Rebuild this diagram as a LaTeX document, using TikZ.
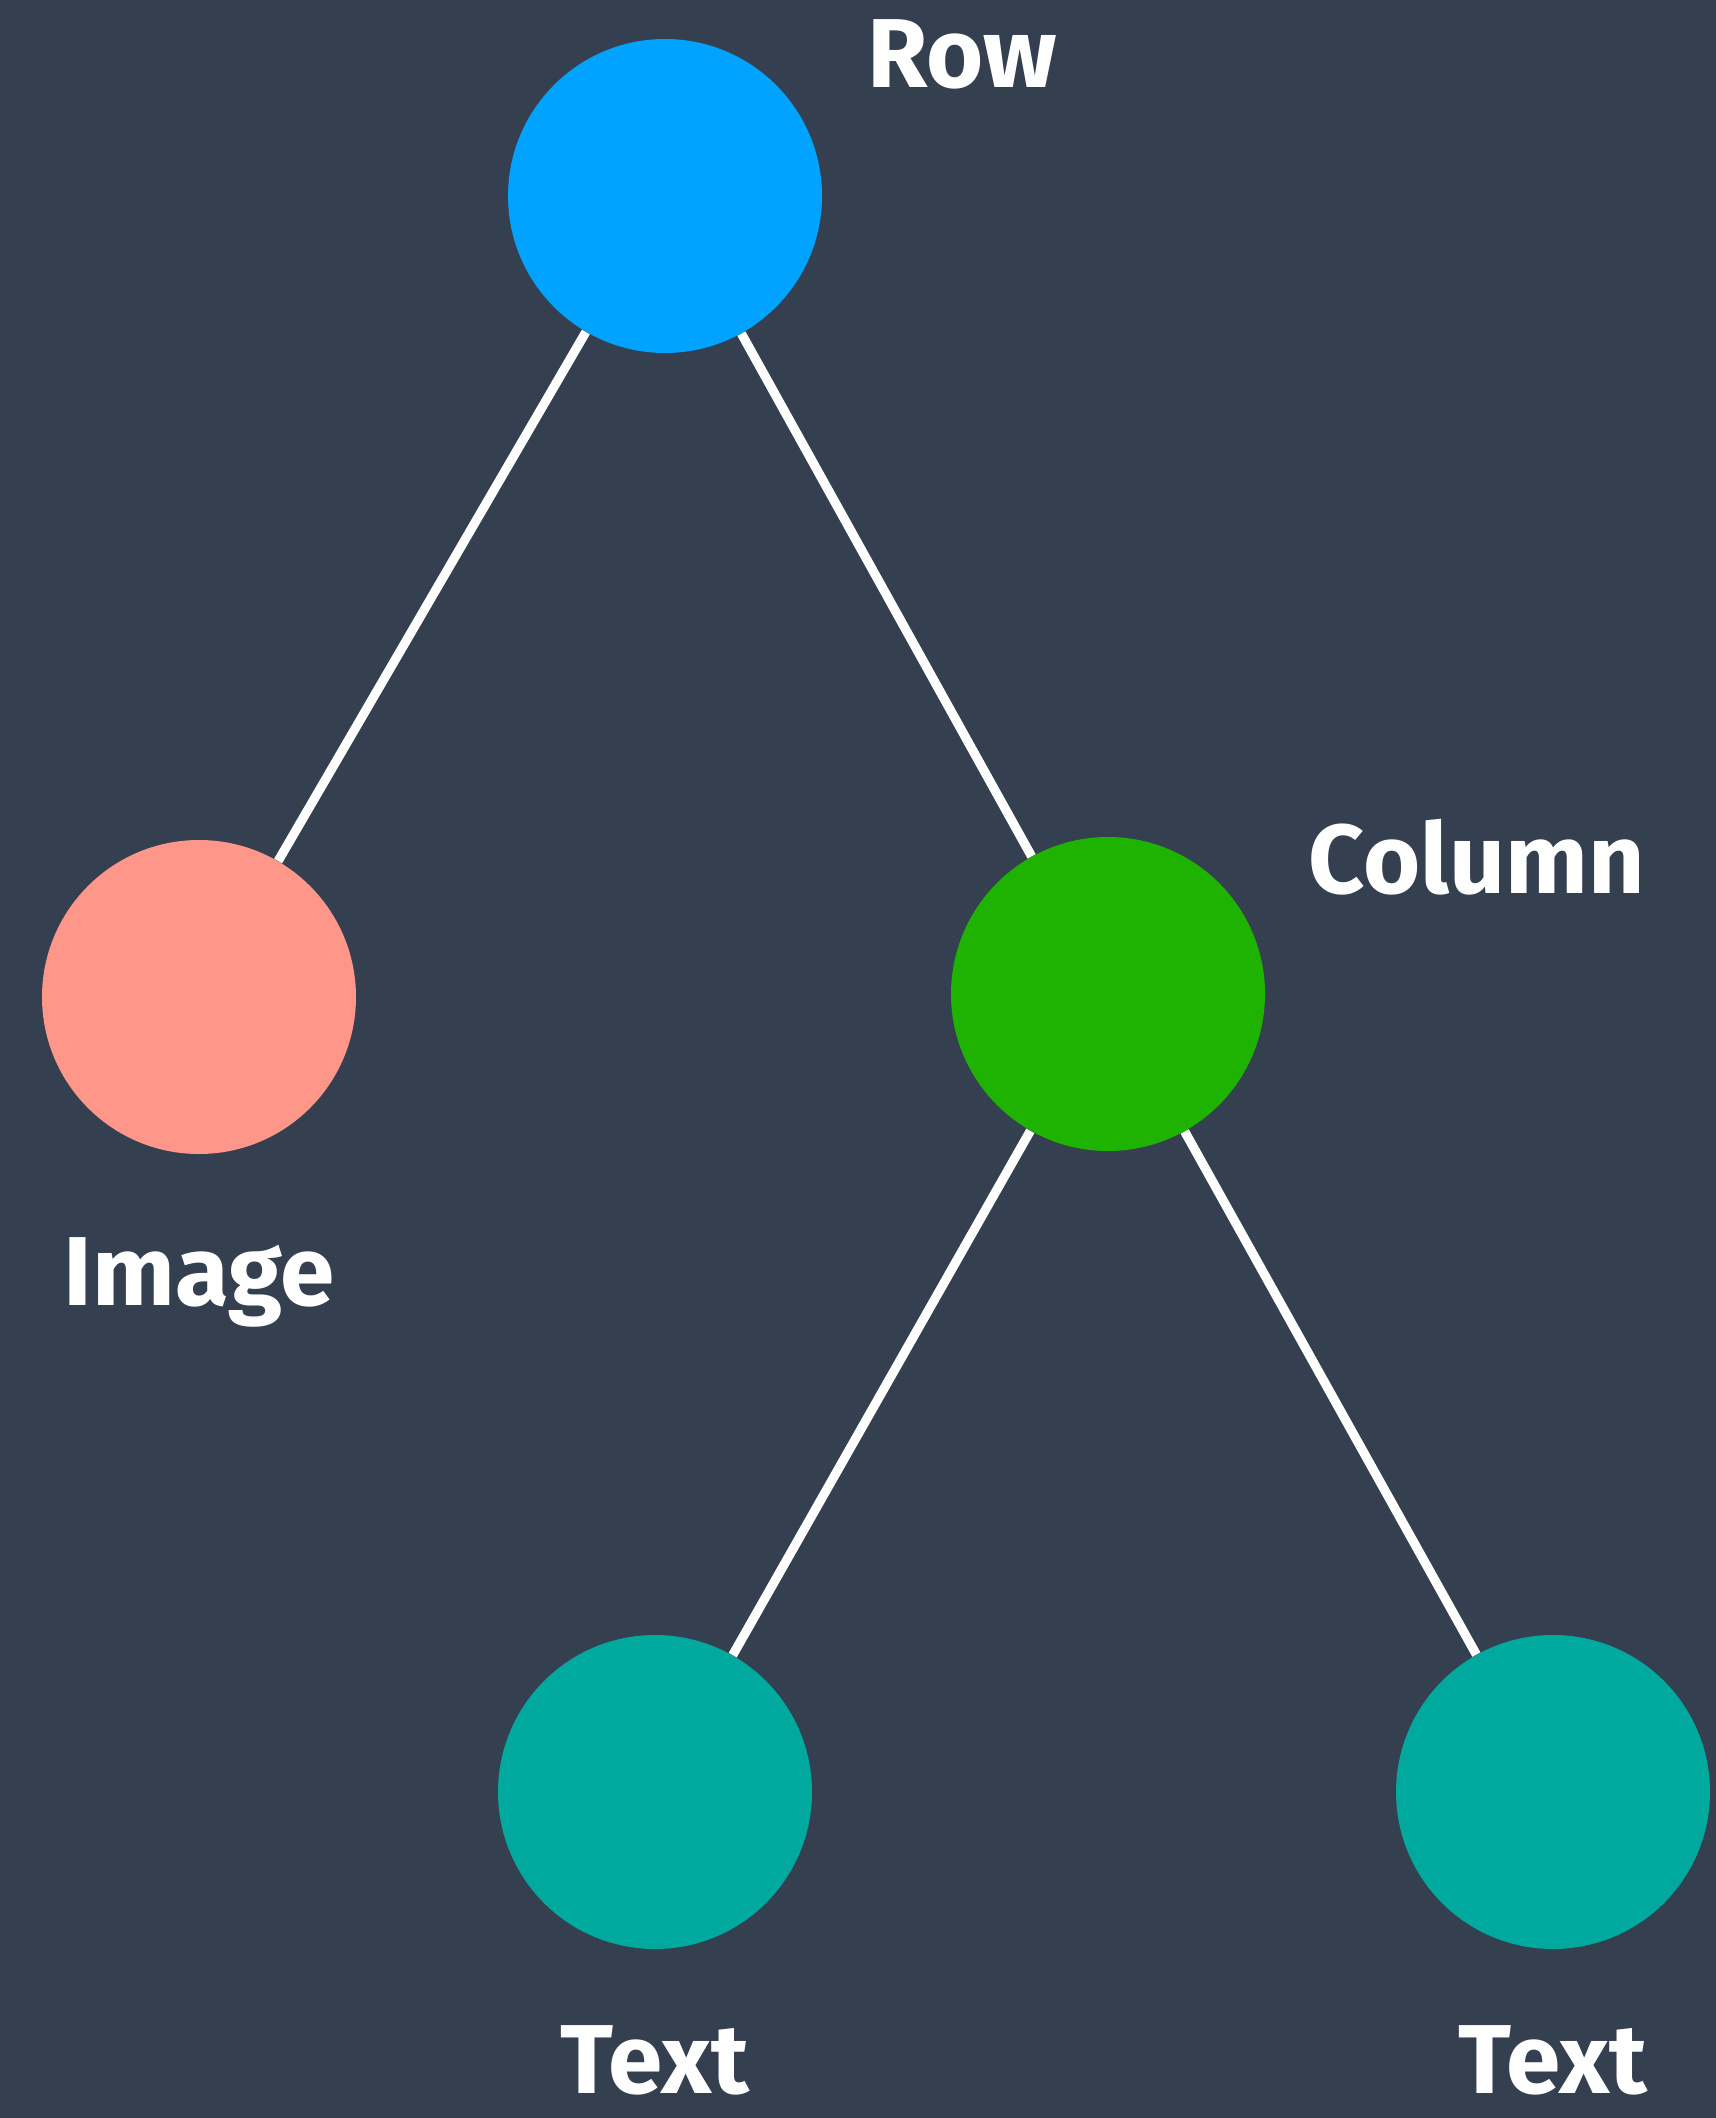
\documentclass[tikz,border=0pt]{standalone}
\usepackage{fontspec}
\setmainfont{Fira Sans}
\definecolor{bgslate}{HTML}{343F50}
\definecolor{rowblue}{HTML}{00A3FF}
\definecolor{imgsalmon}{HTML}{FF968A}
\definecolor{colgreen}{HTML}{1EB300}
\definecolor{textteal}{HTML}{00A99D}
\tikzset{
  widget/.style={circle, inner sep=0pt, minimum size=157pt},
  wname/.style={anchor=base, text=white, font=\fontsize{49}{56}\selectfont\bfseries},
  edge/.style={white, line width=4.6pt}
}
\begin{document}
\begin{tikzpicture}[x=0.5pt, y=-0.5pt]
    \fill[bgslate] (0,0) rectangle (1716,2118);
    \useasboundingbox (0,0) rectangle (1716,2118);
    % widget tree
    \node[widget, fill=rowblue] (row) at (665,196) {};
    \node[widget, fill=imgsalmon] (image) at (199,997) {};
    \node[widget, fill=colgreen] (column) at (1108,994) {};
    \node[widget, fill=textteal] (textl) at (655,1792) {};
    \node[widget, fill=textteal] (textr) at (1553,1792) {};
    \draw[edge] (row) -- (image);
    \draw[edge] (row) -- (column);
    \draw[edge] (column) -- (textl);
    \draw[edge] (column) -- (textr);
    % names
    \node[wname] (rowlbl) at (962,88) {Row};
    \node[wname] (columnlbl) at (1477,893) {Column};
    \node[wname] (imagelbl) at (199,1305) {Image};
    \node[wname] (textllbl) at (655,2093) {Text};
    \node[wname] (textrlbl) at (1553,2093) {Text};
\end{tikzpicture}
\end{document}
